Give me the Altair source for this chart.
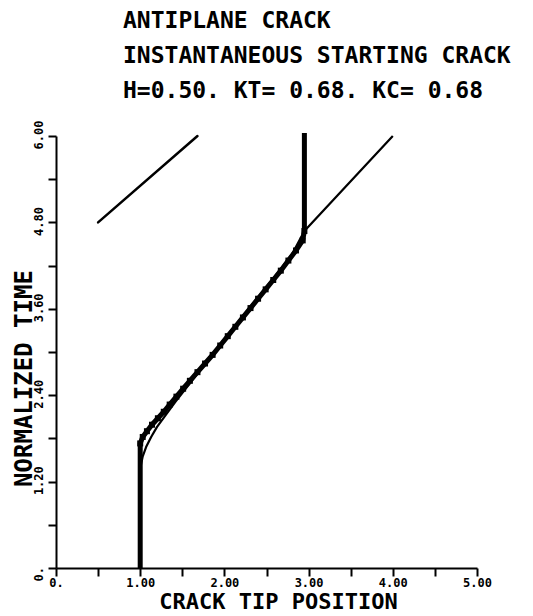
import altair as alt
import pandas as pd

# ---- data ----
# thin (analytical) curve
thin_x = [1.00, 1.00, 1.03, 1.07, 1.13, 1.20, 1.30, 1.42, 1.60, 1.80, 2.00, 2.20, 2.40, 2.60, 2.80, 2.95, 4.00]
thin_t = [0.00, 1.38, 1.55, 1.68, 1.82, 1.96, 2.12, 2.31, 2.58, 2.88, 3.18, 3.47, 3.76, 4.05, 4.35, 4.68, 6.00]

# thick (numerical, stepped) curve
thick_x = [1.00, 1.00, 1.03, 1.08, 1.14, 1.21, 1.28, 1.35, 1.43, 1.51, 1.59, 1.68, 1.77, 1.86,
           1.95, 2.04, 2.13, 2.22, 2.31, 2.40, 2.49, 2.58, 2.67, 2.76, 2.85, 2.93, 2.95, 2.95]
thick_t = [0.00, 1.73, 1.82, 1.90, 1.99, 2.08, 2.17, 2.27, 2.38, 2.49, 2.60, 2.72, 2.84, 2.96,
           3.09, 3.22, 3.35, 3.48, 3.61, 3.74, 3.87, 4.00, 4.13, 4.27, 4.41, 4.55, 4.68, 6.04]

# reference slope line (upper left)
ref_x = [0.50, 1.68]
ref_t = [4.80, 6.00]

x_ticks = [0, 0.5, 1, 1.5, 2, 2.5, 3, 3.5, 4, 4.5, 5]
y_ticks = [0, 0.6, 1.2, 1.8, 2.4, 3.0, 3.6, 4.2, 4.8, 5.4, 6.0]

title_lines = ["ANTIPLANE CRACK", "INSTANTANEOUS STARTING CRACK", "H=0.50. KT= 0.68. KC= 0.68"]

FONT = "DejaVu Sans Mono"

def frame(xs, ts):
    return pd.DataFrame({"x": xs, "t": ts, "i": list(range(len(xs)))})

xscale = alt.Scale(domain=[0, 5], nice=False, zero=False)
yscale = alt.Scale(domain=[0, 6], nice=False, zero=False)

xaxis = alt.Axis(
    values=x_ticks,
    labelExpr="datum.value == 0 ? '0.' : (datum.value % 1 == 0 ? format(datum.value, '.2f') : '')",
    title="CRACK TIP POSITION",
    titleFont=FONT, titleFontSize=22, titleFontWeight="bold", titleColor="black",
    titleX=222, titleY=33, titleBaseline="middle", titleAlign="center",
    labelFont=FONT, labelFontSize=12, labelFontWeight="bold", labelColor="black",
    labelPadding=1, labelOverlap=False, labelFlush=False,
    tickSize=8, tickWidth=2, tickColor="black",
    domainColor="black", domainWidth=2, grid=False,
)
yaxis = alt.Axis(
    values=y_ticks,
    labelExpr="round(datum.value*10) % 12 == 0 ? (datum.value == 0 ? '0.' : format(datum.value, '.2f')) : ''",
    title="NORMALIZED TIME",
    titleFont=FONT, titleFontSize=24, titleFontWeight="bold", titleColor="black",
    titleAngle=270, titleX=-32, titleY=242, titleBaseline="middle", titleAlign="center",
    labelFont=FONT, labelFontSize=12, labelFontWeight="bold", labelColor="black",
    labelAngle=270, labelAlign="left", labelBaseline="bottom", labelOffset=13,
    labelPadding=3, labelOverlap=False, labelFlush=False,
    tickSize=8, tickWidth=2, tickColor="black",
    domainColor="black", domainWidth=2, grid=False,
)

def enc(c):
    return c.encode(
        x=alt.X("x:Q", scale=xscale, axis=xaxis),
        y=alt.Y("t:Q", scale=yscale, axis=yaxis),
        order="i:Q",
    )

thick_df = frame(thick_x, thick_t)
thick = enc(alt.Chart(thick_df).mark_line(color="black", strokeWidth=5, strokeJoin="miter"))
thick_pts = alt.Chart(thick_df.iloc[1:-1]).mark_point(
    shape="square", filled=True, color="black", size=36, opacity=1
).encode(
    x=alt.X("x:Q", scale=xscale, axis=xaxis),
    y=alt.Y("t:Q", scale=yscale, axis=yaxis),
)
thin = enc(alt.Chart(frame(thin_x, thin_t)).mark_line(color="black", strokeWidth=2.2, strokeJoin="round"))
ref = enc(alt.Chart(frame(ref_x, ref_t)).mark_line(color="black", strokeWidth=2.5, strokeCap="round"))

chart = alt.layer(thick, thick_pts, thin, ref).properties(
    width=421,
    height=432,
    autosize=alt.AutoSizeParams(type="none"),
    padding={"left": 48, "top": 128, "right": 48, "bottom": 48},
    title=alt.TitleParams(
        text=title_lines, anchor="start", frame="group", dx=67,
        font=FONT, fontSize=23, fontWeight="bold", color="black",
        lineHeight=35, offset=17,
    ),
    background="white",
).configure_view(stroke=None)

chart.save("out.html", embed_options={"renderer": "svg", "actions": False})
